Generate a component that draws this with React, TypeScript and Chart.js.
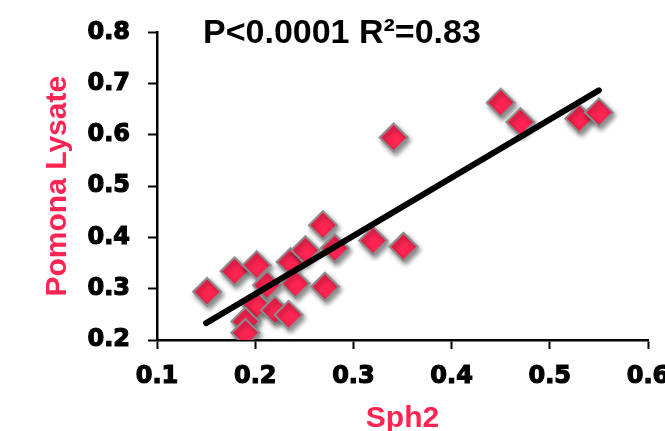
import React, { useEffect, useRef } from "react";
import { Chart, registerables } from "chart.js";

Chart.register(...registerables);

// Data
const sph2Values: number[] = [
  0.151, 0.179, 0.2015, 0.212, 0.201, 0.19, 0.19, 0.22, 0.234, 0.236, 0.251,
  0.241, 0.269, 0.271, 0.281, 0.32, 0.351, 0.341, 0.45, 0.47, 0.53, 0.55,
];
const lysateValues: number[] = [
  0.294, 0.334, 0.346, 0.307, 0.268, 0.236, 0.214, 0.258, 0.249, 0.352, 0.375,
  0.31, 0.424, 0.304, 0.379, 0.394, 0.382, 0.595, 0.663, 0.625, 0.632, 0.644,
];
const fitX: number[] = [0.15, 0.55];
const fitY: number[] = [0.233, 0.687];
const titleText = "P<0.0001 R\u00B2=0.83";
const xTitle = "Sph2";
const yTitle = "Pomona Lysate";
const xMin = 0.1, xMax = 0.6, yMin = 0.2, yMax = 0.8, step = 0.1;

const PINK = "#FF2452";

export default function App() {
  const ref = useRef<HTMLCanvasElement | null>(null);

  useEffect(() => {
    if (!ref.current) return;
    const points = sph2Values.map((x, i) => ({ x, y: lysateValues[i] }));
    const fit = fitX.map((x, i) => ({ x, y: fitY[i] }));

    const shadowPlugin = {
      id: "shadow",
      beforeDatasetDraw(chart: any, args: any) {
        if (args.index === 1) {
          const ctx = chart.ctx;
          ctx.save();
          ctx.shadowColor = "rgba(0,0,0,0.45)";
          ctx.shadowBlur = 5;
          ctx.shadowOffsetX = 2;
          ctx.shadowOffsetY = 3;
        }
      },
      afterDatasetDraw(chart: any, args: any) {
        if (args.index === 1) chart.ctx.restore();
      },
    };

    const titlePlugin = {
      id: "topTitle",
      afterDraw(chart: any) {
        const ctx = chart.ctx;
        const area = chart.chartArea;
        ctx.save();
        ctx.fillStyle = "#000";
        ctx.font = "bold 34px 'Liberation Sans', Arial, sans-serif";
        ctx.textAlign = "left";
        ctx.textBaseline = "middle";
        ctx.fillText(titleText, area.left + 46, area.top + 1);
        ctx.restore();
      },
    };

    const tickFont = { family: "'DejaVu Sans', sans-serif", size: 24, weight: "bold" as const };
    const axisTitleFont = {
      family: "'Liberation Sans', Arial, sans-serif",
      size: 30,
      weight: "bold" as const,
      lineHeight: 1,
    };

    const chart = new Chart(ref.current, {
      type: "scatter",
      data: {
        datasets: [
          {
            type: "line",
            data: fit,
            borderColor: "#000",
            borderWidth: 6,
            borderCapStyle: "round",
            pointRadius: 0,
            fill: false,
            order: 0,
          } as any,
          {
            type: "scatter",
            data: points,
            pointStyle: "rectRot",
            pointRadius: 14,
            backgroundColor: PINK,
            borderColor: "#8c8c8c",
            borderWidth: 2,
            order: 1,
          } as any,
        ],
      },
      options: {
        responsive: false,
        animation: false,
        layout: { padding: { top: 31, left: 0, right: 52, bottom: 0 } },
        plugins: { legend: { display: false }, tooltip: { enabled: false } },
        scales: {
          x: {
            type: "linear",
            min: xMin,
            max: xMax,
            afterFit(scale: any) {
              scale.height = 91;
            },
            ticks: {
              stepSize: step,
              color: "#000",
              font: tickFont,
              textStrokeColor: "#000",
              textStrokeWidth: 1.2,
              padding: 13,
              callback: (v: any) => Number(v).toFixed(1),
            },
            grid: {
              drawOnChartArea: false,
              drawTicks: true,
              tickLength: 9,
              tickWidth: 2,
              color: "#000",
            },
            border: { display: true, color: "#000", width: 2.5 },
            title: {
              display: true,
              text: xTitle,
              color: PINK,
              font: axisTitleFont,
              padding: { top: 0, bottom: -3 },
            },
          },
          y: {
            type: "linear",
            min: yMin,
            max: yMax,
            afterFit(scale: any) {
              scale.width = 157;
            },
            ticks: {
              stepSize: step,
              color: "#000",
              font: tickFont,
              textStrokeColor: "#000",
              textStrokeWidth: 1.2,
              padding: 18,
              callback: (v: any) => Number(v).toFixed(1),
            },
            grid: {
              drawOnChartArea: false,
              drawTicks: true,
              tickLength: 9,
              tickWidth: 2,
              color: "#000",
            },
            border: { display: true, color: "#000", width: 2.5 },
            title: {
              display: true,
              text: yTitle,
              color: PINK,
              font: axisTitleFont,
              padding: { top: 43, bottom: 0 },
            },
          },
        },
      },
      plugins: [shadowPlugin, titlePlugin],
    } as any);

    return () => chart.destroy();
  }, []);

  return (
    <div
      style={{
        position: "fixed",
        left: 0,
        top: 0,
        width: 665,
        height: 431,
        overflow: "hidden",
        background: "#fff",
      }}
    >
      <canvas ref={ref} width={700} height={431} style={{ width: 700, height: 431 }} />
    </div>
  );
}
